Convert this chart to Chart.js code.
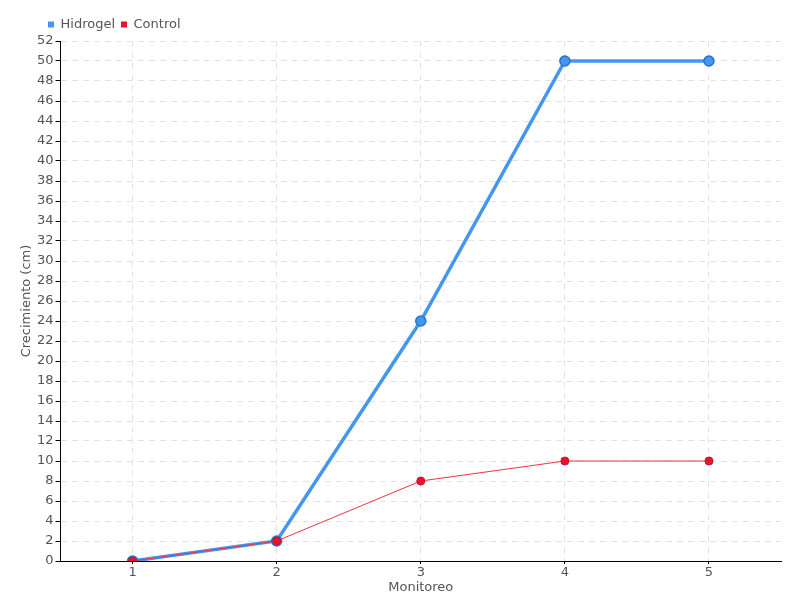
<!DOCTYPE html>
<html>
<head>
<meta charset="utf-8">
<script src="https://cdn.jsdelivr.net/npm/chart.js@4/dist/chart.umd.min.js"></script>
<style>
  html, body { margin: 0; padding: 0; background: #fff; }
  #wrap { width: 800px; height: 600px; }
</style>
</head>
<body>
<div id="wrap"><canvas id="myChart"></canvas></div>
<script>
const monitoreos = ['1', '2', '3', '4', '5']
const hidrogel = [0, 2, 24, 50, 50]
const control = [0, 2, 8, 10, 10]

const font = { family: 'DejaVu Sans', size: 13 }
const tightFont = { family: 'DejaVu Sans', size: 13, lineHeight: 1 }
Chart.defaults.color = '#555'

// mover la leyenda un poco a la derecha, como en la original
const shiftLegend = {
  id: 'shiftLegend',
  afterLayout (chart) {
    chart.legend.left += 24
  }
}

const ctx = document.getElementById('myChart')
new Chart(ctx, {
  type: 'line',
  data: {
    labels: monitoreos,
    datasets: [{
      label: 'Hidrogel',
      data: hidrogel,
      order: 1,
      borderColor: '#4496ee',
      backgroundColor: '#4496ee',
      pointBorderColor: '#2a74c8',
      pointBackgroundColor: '#4496ee',
      borderWidth: 3.5,
      pointRadius: 5,
      pointBorderWidth: 1.5,
      tension: 0
    }, {
      label: 'Control',
      data: control,
      order: 0,
      borderColor: '#ee3344',
      backgroundColor: '#e8142a',
      pointBorderColor: '#c8102a',
      pointBackgroundColor: '#e8142a',
      borderWidth: 1,
      pointRadius: 4,
      pointBorderWidth: 1,
      tension: 0
    }]
  },
  options: {
    responsive: true,
    maintainAspectRatio: false,
    animation: false,
    layout: { padding: { left: 18, right: 19, top: 12, bottom: 6 } },
    plugins: {
      legend: {
        align: 'start',
        labels: {
          boxWidth: 6,
          boxHeight: 6,
          padding: 6,
          font: font,
          sort: (a, b) => a.datasetIndex - b.datasetIndex,
          generateLabels (chart) {
            const items = Chart.defaults.plugins.legend.labels.generateLabels(chart)
            items.forEach(item => {
              item.lineWidth = 0
              item.strokeStyle = item.fillStyle
            })
            return items
          }
        }
      },
      tooltip: { enabled: false }
    },
    scales: {
      x: {
        offset: true,
        grid: {
          offset: false,
          color: '#e2e2e2',
          tickColor: '#000',
          tickLength: 3
        },
        border: { color: '#000', dash: [6, 5] },
        ticks: { font: tightFont, padding: 2 },
        title: { display: true, text: 'Monitoreo', font: tightFont, padding: 0 }
      },
      y: {
        min: 0,
        max: 52,
        grid: {
          color: '#e2e2e2',
          tickColor: '#000',
          tickLength: 5
        },
        border: { color: '#000', dash: [6, 5] },
        ticks: { stepSize: 2, autoSkip: false, font: font, padding: 2 },
        title: { display: true, text: 'Crecimiento (cm)', font: tightFont, padding: 2 }
      }
    }
  },
  plugins: [shiftLegend]
})
</script>
</body>
</html>
